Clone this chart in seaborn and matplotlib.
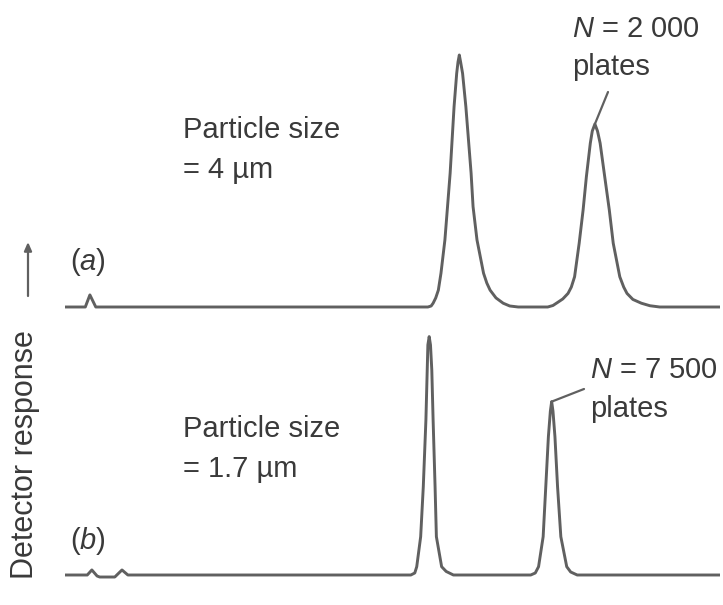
import numpy as np
import pandas as pd
import matplotlib
matplotlib.use("Agg")
import matplotlib.pyplot as plt
import seaborn as sns

# Chromatogram (a): 4 µm particles, N = 2 000 plates
time_a = [0.00, 0.31, 0.38, 0.47,
          5.54, 5.59, 5.62, 5.66, 5.70, 5.74, 5.80, 5.84, 5.88, 5.91, 5.94, 5.98,
          6.00, 6.02, 6.04, 6.07, 6.12, 6.16, 6.20, 6.23, 6.29, 6.39, 6.44, 6.49,
          6.58, 6.69, 6.79, 6.92,
          7.37, 7.45, 7.52, 7.60, 7.68, 7.73, 7.78, 7.85, 7.91, 7.96, 8.02, 8.05,
          8.09, 8.13, 8.17, 8.24, 8.31, 8.37, 8.47, 8.53, 8.58, 8.67, 8.80, 8.93,
          9.08, 10.00]
resp_a = [0.000, 0.000, 0.048, 0.000,
          0.000, 0.004, 0.015, 0.036, 0.067, 0.134, 0.266, 0.398, 0.531, 0.663,
          0.795, 0.927, 0.972, 1.000, 0.972, 0.927, 0.795, 0.663, 0.531, 0.398,
          0.266, 0.134, 0.095, 0.067, 0.036, 0.015, 0.004, 0.000,
          0.000, 0.006, 0.018, 0.032, 0.054, 0.079, 0.120, 0.253, 0.385, 0.517,
          0.650, 0.698, 0.726, 0.698, 0.650, 0.517, 0.385, 0.253, 0.120, 0.079,
          0.054, 0.030, 0.015, 0.005, 0.000, 0.000]

# Chromatogram (b): 1.7 µm particles, N = 7 500 plates
time_b = [0.00, 0.34, 0.41, 0.49, 0.53, 0.76, 0.87, 0.96,
          5.28, 5.34, 5.37, 5.43, 5.47, 5.51, 5.53, 5.54, 5.56, 5.58, 5.60, 5.62,
          5.65, 5.67, 5.75, 5.82, 5.93,
          7.11, 7.18, 7.23, 7.30, 7.34, 7.38, 7.41, 7.43, 7.45, 7.48, 7.52, 7.57,
          7.66, 7.72, 7.82, 10.00]
resp_b = [0.000, 0.000, 0.020, -0.004, -0.008, -0.008, 0.020, 0.000,
          0.000, 0.008, 0.033, 0.152, 0.350, 0.615, 0.813, 0.913, 0.946, 0.913,
          0.813, 0.615, 0.350, 0.152, 0.033, 0.014, 0.000,
          0.000, 0.008, 0.033, 0.152, 0.350, 0.549, 0.650, 0.688, 0.650, 0.549,
          0.350, 0.152, 0.033, 0.012, 0.000, 0.000]

panel_tags = ["($a$)", "($b$)"]
size_labels = [["Particle size", "= 4 µm"], ["Particle size", "= 1.7 µm"]]
plate_labels = [["$N$ = 2 000", "plates"], ["$N$ = 7 500", "plates"]]
y_label = "Detector response"

sns.set_style("white")
plt.rcParams["font.family"] = ["Liberation Sans", "DejaVu Sans"]
plt.rcParams["mathtext.fontset"] = "custom"
plt.rcParams["mathtext.rm"] = "Liberation Sans"
plt.rcParams["mathtext.it"] = "Liberation Sans:italic"

W, H = 723, 605
fig = plt.figure(figsize=(W / 100, H / 100), dpi=100)
fig.patch.set_facecolor("white")

line_col = "#606060"
text_col = "#3a3a3a"
fs = 21


def fig_box(left, top, right, bottom):
    return [left / W, 1 - bottom / H, (right - left) / W, (bottom - top) / H]


ax_a = fig.add_axes(fig_box(65, 30, 720, 315))
ax_b = fig.add_axes(fig_box(65, 330, 720, 590))

df_a = pd.DataFrame({"time": time_a, "response": resp_a})
df_b = pd.DataFrame({"time": time_b, "response": resp_b})

for ax, df in ((ax_a, df_a), (ax_b, df_b)):
    sns.lineplot(data=df, x="time", y="response", ax=ax, sort=False,
                 estimator=None, color=line_col, lw=2.1)
    for ln in ax.get_lines():
        ln.set_solid_joinstyle("round")
        ln.set_solid_capstyle("round")
    ax.set_xlim(0, 10)
    ax.set_axis_off()

ax_a.set_ylim(-8 / 252, 277 / 252)
ax_b.set_ylim(-15 / 252, 245 / 252)


def put(x, y_top, s, **kw):
    fig.text(x / W, 1 - y_top / H, s, fontsize=fs, color=text_col,
             va="baseline", ha="left", **kw)


# particle-size captions
put(183, 138, size_labels[0][0])
put(183, 178, size_labels[0][1])
put(183, 437, size_labels[1][0])
put(183, 477, size_labels[1][1])

# panel tags
put(70, 270, panel_tags[0])
put(70, 549, panel_tags[1])

# plate-count captions
put(572, 37, plate_labels[0][0])
put(572, 75, plate_labels[0][1])
put(590, 378, plate_labels[1][0])
put(590, 417, plate_labels[1][1])

# leader lines to the second peak of each run
ia = int(np.argmax(np.where(np.array(time_a) > 7, resp_a, -1)))
ib = int(np.argmax(np.where(np.array(time_b) > 7, resp_b, -1)))
ax_a.annotate("", xy=(time_a[ia], resp_a[ia]), xycoords="data",
              xytext=(608, H - 92), textcoords="figure pixels",
              arrowprops=dict(arrowstyle="-", color=line_col, lw=1.6,
                              shrinkA=0, shrinkB=0))
ax_b.annotate("", xy=(time_b[ib], resp_b[ib]), xycoords="data",
              xytext=(584, H - 389), textcoords="figure pixels",
              arrowprops=dict(arrowstyle="-", color=line_col, lw=1.6,
                              shrinkA=0, shrinkB=0))

# y-axis caption with upward arrow
fig.text(25 / W, 1 - 455 / H, y_label, rotation=90, fontsize=fs + 1,
         color=text_col, ha="center", va="center")
fig.add_artist(matplotlib.patches.FancyArrowPatch(
    (28 / W, 1 - 296 / H), (28 / W, 1 - 242 / H), transform=fig.transFigure,
    arrowstyle="-|>,head_length=5,head_width=2.2", color=line_col, lw=1.6,
    shrinkA=0, shrinkB=0))

fig.savefig("out.png", dpi=100, facecolor="white")
